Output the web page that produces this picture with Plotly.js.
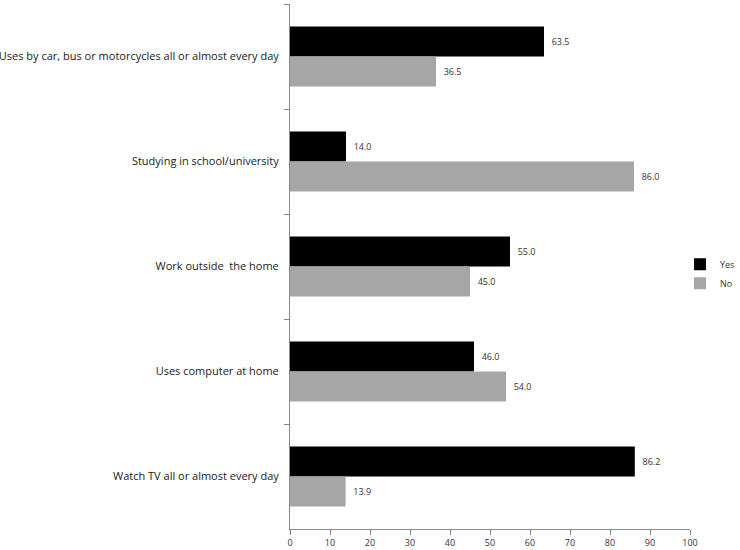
<!DOCTYPE html>
<html>
<head>
<meta charset="utf-8">
<script src="https://cdn.plot.ly/plotly-3.0.1.min.js"></script>
<style>
  body { margin: 0; background: #fff; }
  #chart { width: 740px; height: 550px; }
</style>
</head>
<body>
<div id="chart"></div>
<script>
// categories listed top to bottom
var activities = [
  "Uses by car, bus or motorcycles all or almost every day",
  "Studying in school/university",
  "Work outside  the home",
  "Uses computer at home",
  "Watch TV all or almost every day"
];
var yesValues = [63.5, 14.0, 55.0, 46.0, 86.2];
var noValues = [36.5, 86.0, 45.0, 54.0, 13.9];

// small gap between bar end and its label
var pad = "\u00a0\u00a0";

var yesTrace = {
  name: "Yes",
  type: "bar",
  orientation: "h",
  y: activities,
  x: yesValues,
  marker: { color: "#000000" },
  text: yesValues.map(v => pad + v.toFixed(1)),
  textposition: "outside",
  cliponaxis: false,
  textfont: { size: 9, color: "#333" }
};

var noTrace = {
  name: "No",
  type: "bar",
  orientation: "h",
  y: activities,
  x: noValues,
  marker: { color: "#a6a6a6" },
  text: noValues.map(v => pad + v.toFixed(1)),
  textposition: "outside",
  cliponaxis: false,
  textfont: { size: 9, color: "#333" }
};

var layout = {
  width: 740,
  height: 550,
  margin: { l: 290, r: 50, t: 4, b: 21, autoexpand: false },
  paper_bgcolor: "#fff",
  plot_bgcolor: "#fff",
  font: { family: "Open Sans, Liberation Sans, sans-serif", color: "#222" },
  barmode: "group",
  bargap: 0.43,
  bargroupgap: 0,
  showlegend: true,
  legend: {
    x: 0.975, y: 0.486, xanchor: "left", yanchor: "middle",
    font: { size: 9, color: "#333" },
    bgcolor: "rgba(0,0,0,0)",
    itemwidth: 30
  },
  xaxis: {
    range: [0, 100],
    dtick: 10,
    showgrid: false,
    zeroline: false,
    showline: true,
    linecolor: "#888",
    linewidth: 1,
    ticks: "outside",
    ticklen: 5,
    tickcolor: "#888",
    tickfont: { size: 9, color: "#333" }
  },
  yaxis: {
    autorange: "reversed",
    showgrid: false,
    showline: true,
    linecolor: "#888",
    linewidth: 1,
    ticks: "outside",
    tickson: "boundaries",
    ticklen: 5,
    tickcolor: "#888",
    ticklabelstandoff: 8,
    tickfont: { size: 11, color: "#222" }
  }
};

Plotly.newPlot("chart", [yesTrace, noTrace], layout, { displayModeBar: false });
</script>
</body>
</html>
